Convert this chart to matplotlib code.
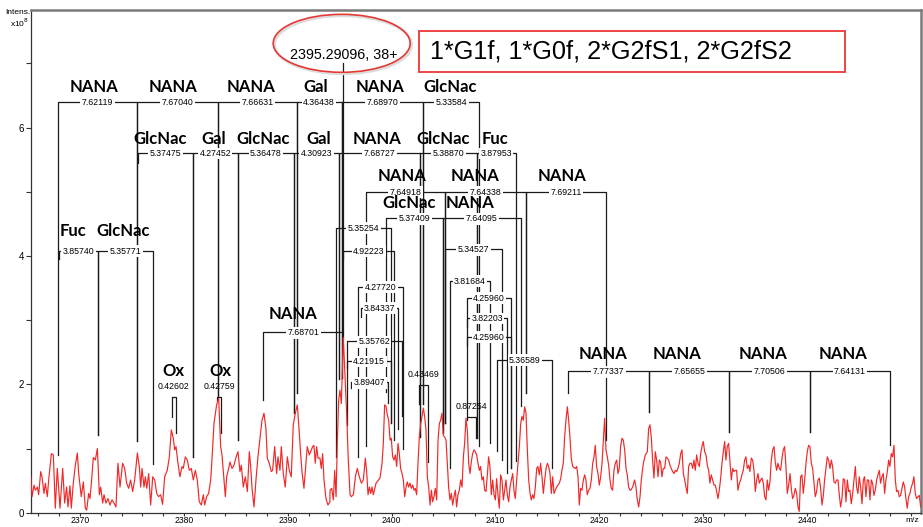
import numpy as np
import matplotlib
matplotlib.use('Agg')
import matplotlib.pyplot as plt
from matplotlib.patches import Ellipse, Rectangle
from matplotlib.ticker import MultipleLocator
from matplotlib import font_manager

# ---- spectrum (m/z, intensity in 1e8) ----
MZ = [
    2365.25, 2365.38, 2365.57, 2365.70, 2365.89, 2366.02, 2366.21, 2366.34, 2366.53, 2366.66, 2366.85, 2366.98,
    2367.24, 2367.43, 2367.62, 2367.81, 2368.07, 2368.33, 2368.52, 2368.71, 2368.84, 2369.03, 2369.16, 2369.35,
    2369.55, 2369.74, 2369.87, 2370.12, 2370.32, 2370.51, 2370.64, 2370.83, 2370.96, 2371.09, 2371.28, 2371.47,
    2371.67, 2371.86, 2371.99, 2372.18, 2372.31, 2372.50, 2372.69, 2372.88, 2373.08, 2373.27, 2373.46, 2373.65,
    2373.85, 2374.10, 2374.30, 2374.49, 2374.68, 2374.87, 2375.07, 2375.26, 2375.52, 2375.71, 2375.84, 2375.97,
    2376.16, 2376.29, 2376.42, 2376.61, 2376.80, 2377.00, 2377.19, 2377.38, 2377.57, 2377.76, 2377.95, 2378.15,
    2378.40, 2378.60, 2378.79, 2378.98, 2379.11, 2379.24, 2379.43, 2379.62, 2379.82, 2379.94, 2380.14, 2380.33,
    2380.52, 2380.71, 2380.91, 2381.10, 2381.29, 2381.48, 2381.68, 2381.87, 2382.00, 2382.19, 2382.38, 2382.58,
    2382.70, 2382.90, 2383.15, 2383.35, 2383.54, 2383.67, 2383.86, 2383.99, 2384.12, 2384.31, 2384.44, 2384.63,
    2384.82, 2385.01, 2385.21, 2385.40, 2385.53, 2385.72, 2385.91, 2386.11, 2386.30, 2386.43, 2386.56, 2386.75,
    2386.94, 2387.13, 2387.33, 2387.52, 2387.71, 2387.90, 2388.03, 2388.22, 2388.42, 2388.54, 2388.74, 2388.93,
    2389.06, 2389.25, 2389.38, 2389.57, 2389.76, 2389.96, 2390.15, 2390.34, 2390.53, 2390.73, 2390.92, 2391.05,
    2391.24, 2391.37, 2391.56, 2391.75, 2391.88, 2392.07, 2392.27, 2392.40, 2392.52, 2392.65, 2392.78, 2392.91,
    2393.10, 2393.23, 2393.36, 2393.49, 2393.68, 2393.87, 2394.06,
    2394.07, 2394.23, 2394.39, 2394.52, 2394.65, 2394.78, 2394.90, 2395.03, 2395.16, 2395.35, 2395.55, 2395.67,
    2395.83, 2396.00, 2396.12, 2396.32, 2396.51, 2396.70, 2396.89, 2397.09, 2397.28, 2397.47, 2397.60, 2397.73,
    2397.86, 2397.99, 2398.11, 2398.24, 2398.50, 2398.88, 2399.08, 2399.20, 2399.33, 2399.46, 2399.59, 2399.72,
    2399.85, 2399.97, 2400.10, 2400.23, 2400.36, 2400.49, 2400.62, 2400.74, 2400.87, 2401.00, 2401.13, 2401.26,
    2401.39, 2401.51, 2401.64, 2401.77, 2401.90, 2402.03, 2402.16, 2402.28, 2402.41, 2402.54, 2402.67, 2402.80,
    2402.93, 2403.06, 2403.18, 2403.31, 2403.44, 2403.57, 2403.70, 2403.83, 2403.95, 2404.08, 2404.21, 2404.34,
    2404.47, 2404.60, 2404.72, 2404.85, 2404.98, 2405.11, 2405.24, 2405.37, 2405.49, 2405.62, 2405.75, 2405.88,
    2406.01, 2406.14, 2406.26, 2406.39, 2406.52, 2406.65, 2406.78, 2406.91, 2407.03, 2407.16, 2407.29, 2407.42,
    2407.55, 2407.68, 2407.80, 2407.93, 2408.06, 2408.19, 2408.32, 2408.45, 2408.57, 2408.70, 2408.83, 2408.96,
    2409.09, 2409.22, 2409.34, 2409.47, 2409.60, 2409.73, 2409.86, 2409.99, 2410.11, 2410.24, 2410.37, 2410.50,
    2410.63, 2410.76, 2410.89, 2411.01, 2411.14, 2411.27, 2411.40, 2411.53, 2411.66, 2411.78, 2411.91, 2412.04,
    2412.17, 2412.30, 2412.43, 2412.55, 2412.68, 2412.81, 2412.94, 2413.07, 2413.20, 2413.33, 2413.45, 2413.58,
    2413.71, 2413.84, 2413.97, 2414.09, 2414.22, 2414.35, 2414.48, 2414.61, 2414.74, 2414.87, 2415.00, 2415.12,
    2415.25, 2415.38, 2415.51, 2415.64, 2415.76, 2415.89, 2416.15, 2416.28, 2416.40, 2416.53, 2416.66, 2416.79,
    2416.92, 2417.05, 2417.18, 2417.30, 2417.43, 2417.69, 2417.82, 2417.95, 2418.07, 2418.20, 2418.33, 2418.46,
    2418.59, 2418.71, 2418.84, 2418.97, 2419.10, 2419.23, 2419.36, 2419.49, 2419.61, 2419.74, 2419.87, 2420.00,
    2420.13, 2420.26, 2420.39, 2420.51, 2420.64, 2420.77, 2420.90, 2421.03, 2421.15, 2421.28, 2421.41, 2421.54,
    2421.67, 2421.80, 2421.92, 2422.05, 2422.18, 2422.31, 2422.44, 2422.57, 2422.69, 2422.82, 2422.95,
    2423.02, 2423.21, 2423.40, 2423.53, 2423.66, 2423.79, 2423.92, 2424.04, 2424.24, 2424.43, 2424.62, 2424.75,
    2424.88, 2425.01, 2425.13, 2425.26, 2425.39, 2425.52, 2425.65, 2425.78, 2425.90, 2426.03, 2426.16, 2426.29,
    2426.42, 2426.55, 2426.67, 2426.80, 2427.06, 2427.19, 2427.32, 2427.45, 2427.57, 2427.70, 2427.83, 2427.96,
    2428.09, 2428.22, 2428.34, 2428.47, 2428.60, 2428.73, 2428.86, 2428.99, 2429.11, 2429.24, 2429.37, 2429.50,
    2429.63, 2429.76, 2429.88, 2430.01, 2430.14, 2430.27, 2430.40, 2430.53, 2430.65, 2430.78, 2430.91, 2431.04,
    2431.17, 2431.30, 2431.42, 2431.55, 2431.68, 2431.81, 2431.94, 2432.07, 2432.19, 2432.32, 2432.45, 2432.58,
    2432.71, 2432.84, 2432.96, 2433.09, 2433.22, 2433.35, 2433.48, 2433.61, 2433.73, 2433.86, 2433.99, 2434.12,
    2434.25, 2434.38, 2434.50, 2434.63, 2434.76, 2434.89, 2435.02, 2435.15, 2435.28, 2435.40, 2435.53, 2435.66,
    2435.79, 2435.92, 2436.05, 2436.17, 2436.30, 2436.43, 2436.56, 2436.69, 2436.82, 2436.94, 2437.07, 2437.20,
    2437.33, 2437.46, 2437.59, 2437.71, 2437.84, 2437.97, 2438.10, 2438.23, 2438.36, 2438.48, 2438.61, 2438.74,
    2438.87, 2439.00, 2439.13, 2439.25, 2439.38, 2439.51, 2439.64, 2439.77, 2439.90, 2440.02, 2440.15, 2440.28,
    2440.41, 2440.54, 2440.67, 2440.79, 2440.92, 2441.05, 2441.18, 2441.31, 2441.44, 2441.57, 2441.69, 2441.82,
    2441.95, 2442.08, 2442.21, 2442.34, 2442.46, 2442.59, 2442.72, 2442.85, 2442.98, 2443.11, 2443.23, 2443.36,
    2443.49, 2443.62, 2443.75, 2443.88, 2444.01, 2444.13, 2444.26, 2444.39, 2444.52, 2444.65, 2444.77, 2444.90,
    2445.03, 2445.16, 2445.29, 2445.42, 2445.54, 2445.67, 2445.80, 2445.93, 2446.06, 2446.19, 2446.31, 2446.44,
    2446.57, 2446.70, 2446.83, 2446.96, 2447.08, 2447.21, 2447.34, 2447.47, 2447.60, 2447.73, 2447.86, 2447.98,
    2448.11, 2448.24, 2448.37, 2448.50, 2448.62, 2448.75, 2448.88, 2449.01, 2449.14, 2449.27, 2449.40, 2449.52,
    2449.65, 2449.78, 2449.91, 2450.04, 2450.17, 2450.29, 2450.42, 2450.55, 2450.68, 2450.81, 2450.94, 2451.07,
]
INTENS = [
    0.56, 0.25, 0.43, 0.35, 0.40, 0.28, 0.64, 0.56, 0.30, 0.46, 0.25, 0.51,
    0.92, 0.90, 0.07, 0.69, 0.07, 0.69, 0.15, 0.40, 0.09, 0.42, 0.07, 0.46,
    0.74, 0.93, 0.61, 0.25, 0.48, 0.07, 0.04, 0.30, 0.22, 0.46, 0.86, 0.82,
    1.00, 0.28, 0.40, 0.15, 0.28, 0.15, 0.22, 0.12, 0.20, 0.15, 0.09, 0.77,
    0.40, 0.77, 0.69, 0.46, 0.38, 0.51, 0.33, 0.51, 0.93, 0.72, 0.40, 0.69,
    0.40, 0.56, 0.38, 0.61, 0.12, 0.56, 0.51, 0.30, 0.25, 0.28, 0.13, 0.56,
    0.66, 0.87, 1.29, 1.16, 0.98, 1.03, 0.77, 0.56, 0.72, 0.69, 0.87, 0.82,
    0.66, 0.69, 0.51, 0.66, 0.51, 0.17, 0.12, 0.28, 0.12, 0.25, 0.30, 0.51,
    0.82, 1.39, 1.68, 1.78, 1.03, 0.90, 0.51, 0.25, 0.56, 0.69, 0.79, 0.69,
    0.74, 0.86, 0.95, 0.64, 0.74, 0.40, 0.56, 0.33, 0.95, 0.72, 0.38, 0.09,
    0.51, 0.87, 1.16, 1.44, 1.55, 1.31, 0.85, 0.77, 0.64, 0.66, 1.03, 0.61,
    0.87, 0.66, 1.03, 0.61, 0.40, 0.87, 0.66, 0.56, 1.37, 1.55, 1.68, 1.39,
    0.92, 0.64, 0.38, 0.77, 1.03, 0.90, 0.98, 1.03, 1.05, 0.77, 1.03, 0.85,
    0.85, 0.69, 0.92, 0.51, 0.22, 0.12, 0.17,
    0.35, 0.38, 0.20, 0.66, 0.25, 1.13, 1.75, 1.91, 1.70, 2.73, 2.00, 1.55,
    0.82, 0.28, 0.25, 0.28, 0.56, 0.69, 0.56, 0.46, 0.51, 0.85, 0.64, 0.28,
    0.40, 0.30, 0.40, 0.28, 0.46, 0.54, 0.77, 1.08, 1.68, 1.66, 1.52, 1.44,
    1.13, 1.16, 0.87, 0.82, 0.90, 0.72, 1.08, 0.92, 0.69, 0.61, 0.51, 0.25,
    0.40, 0.48, 0.40, 0.46, 0.38, 0.43, 0.35, 0.38, 0.28, 0.77, 1.18, 1.39,
    1.50, 1.63, 1.50, 1.29, 0.56, 0.40, 0.12, 0.35, 0.17, 0.25, 0.38, 0.20,
    1.13, 1.39, 1.44, 1.55, 1.20, 1.18, 1.13, 0.74, 0.40, 0.20, 0.30, 0.12,
    0.25, 0.35, 0.09, 0.28, 0.35, 0.51, 0.40, 0.87, 1.08, 1.47, 1.29, 0.77,
    0.61, 0.80, 0.92, 0.98, 0.95, 0.90, 0.77, 0.66, 0.72, 0.51, 0.56, 0.35,
    0.33, 0.59, 0.87, 0.72, 0.28, 0.51, 0.28, 0.20, 0.53, 0.28, 0.07, 0.59,
    0.51, 0.20, 0.35, 0.51, 0.28, 0.17, 0.40, 0.51, 0.61, 0.35, 0.22, 0.51,
    0.77, 1.03, 1.39, 1.50, 1.44, 1.65, 1.55, 0.98, 0.51, 0.30, 0.20, 0.28,
    0.22, 0.40, 0.69, 0.72, 0.59, 0.77, 0.56, 0.30, 0.51, 0.69, 0.77, 0.72,
    0.61, 0.30, 0.56, 0.30, 0.35, 0.40, 0.46, 0.53, 0.66, 0.77, 1.18, 1.44,
    1.65, 1.44, 1.16, 0.85, 0.72, 0.69, 0.72, 0.56, 0.12, 0.38, 0.35, 0.51,
    0.59, 0.51, 0.28, 0.35, 0.38, 0.51, 0.77, 0.87, 1.05, 0.72, 0.61, 0.43,
    0.56, 0.77, 1.13, 1.47, 0.98, 0.87, 0.74, 0.51, 0.38, 0.35, 0.66, 0.77,
    0.82, 0.61, 0.69, 1.03, 1.16, 1.13, 0.98, 0.69, 0.59, 0.40, 0.35,
    0.35, 0.40, 0.51, 0.40, 0.20, 0.09, 0.25, 0.51, 0.77, 0.90, 0.95, 1.31,
    1.37, 1.16, 0.82, 0.54, 0.95, 0.82, 0.56, 0.82, 0.79, 0.56, 0.69, 0.69,
    0.87, 0.85, 0.82, 0.74, 0.64, 0.61, 0.66, 0.64, 0.69, 0.77, 0.92, 0.98,
    0.61, 0.51, 0.40, 0.30, 0.72, 0.77, 0.77, 0.69, 0.82, 0.66, 0.90, 0.77,
    0.72, 0.92, 1.03, 1.11, 0.95, 0.90, 0.74, 0.66, 0.46, 0.59, 0.51, 0.43,
    0.43, 0.33, 0.22, 0.35, 0.53, 0.77, 0.95, 1.11, 0.82, 1.03, 1.08, 0.79,
    0.51, 0.69, 0.64, 0.66, 0.66, 0.35, 0.46, 0.51, 0.59, 0.66, 0.82, 0.87,
    0.69, 0.74, 0.64, 0.85, 0.82, 0.66, 0.33, 0.51, 0.61, 0.46, 0.51, 0.54,
    0.46, 0.25, 0.20, 0.51, 0.35, 0.48, 0.82, 0.98, 1.03, 0.79, 0.66, 0.77,
    0.69, 0.66, 0.85, 0.98, 1.03, 0.72, 0.30, 0.43, 0.61, 0.38, 0.22, 0.27,
    0.38, 0.30, 0.09, 0.02, 0.56, 0.59, 0.30, 0.51, 0.77, 0.95, 1.05, 1.03,
    0.77, 0.69, 0.46, 0.25, 0.33, 0.51, 0.54, 0.38, 0.12, 0.27, 0.51, 0.69,
    0.87, 0.82, 0.69, 0.82, 0.72, 0.48, 0.46, 0.51, 0.51, 0.27, 0.09, 0.22,
    0.53, 0.51, 0.17, 0.51, 0.33, 0.35, 0.14, 0.30, 0.51, 0.72, 0.40, 0.30,
    0.56, 0.40, 0.14, 0.51, 0.56, 0.25, 0.51, 0.51, 0.20, 0.51, 0.46, 0.27,
    0.35, 0.51, 0.59, 0.66, 0.46, 0.56, 0.61, 0.30, 0.51, 0.64, 0.82, 0.72,
    0.92, 0.87, 1.05, 0.51, 0.33, 0.35, 0.25, 0.27, 0.38, 0.48, 0.40, 0.22,
    0.07, 0.25, 0.30, 0.40, 0.46, 0.56, 0.30, 0.22, 0.25, 0.27, 0.09, 0.20,
]

# mass-difference brackets: left m/z, right m/z, bar level, left end, right end, value
BRACKETS = [
    (2367.85, 2375.52, 6.40, 0.90, 1.12, '7.62119'),
    (2375.52, 2383.26, 6.40, 1.12, 1.80, '7.67040'),
    (2383.26, 2390.86, 6.40, 1.80, 1.87, '7.66631'),
    (2390.86, 2395.19, 6.40, 1.87, 2.10, '4.36438'),
    (2395.19, 2403.05, 6.40, 2.10, 1.70, '7.68970'),
    (2403.05, 2408.45, 6.40, 1.70, 1.04, '5.33584'),
    (2375.61, 2380.84, 5.60, 5.45, 0.87, '5.37475'),
    (2380.84, 2385.18, 5.60, 0.87, 1.14, '4.27452'),
    (2385.18, 2390.60, 5.60, 1.14, 1.55, '5.36478'),
    (2390.60, 2394.93, 5.60, 1.55, 2.09, '4.30923'),
    (2394.93, 2402.74, 5.60, 2.09, 1.18, '7.68727'),
    (2402.74, 2408.19, 5.60, 1.18, 1.16, '5.38870'),
    (2408.19, 2411.95, 5.60, 1.16, 0.81, '3.87953'),
    (2397.51, 2405.14, 5.00, 1.04, 1.39, '7.64918'),
    (2405.14, 2412.94, 5.00, 1.39, 1.86, '7.64338'),
    (2412.94, 2420.65, 5.00, 1.86, 1.13, '7.69211'),
    (2399.46, 2404.91, 4.585, 1.88, 1.24, '5.37409'),
    (2404.91, 2412.43, 4.585, 1.24, 1.67, '7.64095'),
    (2368.00, 2371.70, 4.08, 3.95, 1.21, '3.85740'),
    (2371.70, 2377.06, 4.08, 1.21, 0.76, '5.35771'),
    (2394.62, 2399.94, 4.435, 0.87, 1.39, '5.35254'),
    (2395.35, 2400.26, 4.08, 3.95, 1.14, '4.92223'),
    (2396.80, 2401.06, 3.52, 0.87, 0.99, '4.27720'),
    (2397.06, 2400.65, 3.19, 3.05, 1.30, '3.84337'),
    (2387.65, 2395.35, 2.81, 1.76, 2.70, '7.68701'),
    (2395.67, 2400.97, 2.67, 1.37, 1.50, '5.35762'),
    (2395.74, 2399.94, 2.36, 2.25, 1.39, '4.21915'),
    (2396.06, 2399.68, 2.03, 1.95, 1.71, '3.89407'),
    (2405.14, 2410.60, 4.10, 1.39, 0.82, '5.34527'),
    (2405.62, 2409.47, 3.61, 0.70, 1.09, '3.81684'),
    (2407.23, 2411.50, 3.35, 1.49, 0.69, '4.25960'),
    (2407.29, 2411.08, 3.03, 2.90, 0.62, '3.82203'),
    (2407.29, 2411.50, 2.74, 2.60, 0.69, '4.25960'),
    (2410.18, 2415.48, 2.38, 0.96, 0.69, '5.36589'),
    (2416.96, 2424.81, 2.20, 1.86, 1.57, '7.77337'),
    (2424.81, 2432.52, 2.20, 1.57, 1.26, '7.65655'),
    (2432.52, 2440.29, 2.20, 1.26, 1.26, '7.70506'),
    (2440.29, 2447.99, 2.20, 1.26, 1.05, '7.64131'),
]
# narrow brackets with the value written above the bar
SMALL_BRACKETS = [
    (2378.83, 2379.24, 1.81, 1.49, 1.24, '0.42602'),
    (2383.22, 2383.58, 1.81, 1.75, 1.24, '0.42759'),
    (2402.67, 2403.47, 1.99, 1.70, 0.79, '0.43469'),
    (2407.23, 2408.10, 1.49, 1.45, 1.16, '0.87254'),
]
# residue names: m/z, baseline level, text
LABELS = [
    (2371.38, 6.56, 'NANA'), (2378.98, 6.56, 'NANA'), (2386.46, 6.56, 'NANA'),
    (2392.72, 6.56, 'Gal'), (2398.89, 6.56, 'NANA'), (2405.63, 6.56, 'GlcNac'),
    (2377.70, 5.75, 'GlcNac'), (2382.83, 5.75, 'Gal'), (2387.65, 5.75, 'GlcNac'),
    (2392.94, 5.75, 'Gal'), (2398.57, 5.75, 'NANA'), (2404.98, 5.75, 'GlcNac'),
    (2409.96, 5.75, 'Fuc'),
    (2400.97, 5.17, 'NANA'), (2408.03, 5.17, 'NANA'), (2416.38, 5.17, 'NANA'),
    (2401.68, 4.74, 'GlcNac'), (2407.55, 4.74, 'NANA'),
    (2369.35, 4.31, 'Fuc'), (2374.17, 4.31, 'GlcNac'),
    (2390.54, 3.02, 'NANA'),
    (2378.98, 2.13, 'Ox'), (2383.48, 2.13, 'Ox'),
    (2420.32, 2.40, 'NANA'), (2427.45, 2.40, 'NANA'), (2435.79, 2.40, 'NANA'), (2443.44, 2.40, 'NANA'),
]
MARKED_MZ = 2395.29
MARKED_TEXT = '2395.29096, 38+'
MARKED_LINE = (7.00, 2.81)
GLYCOFORMS = '1*G1f, 1*G0f, 2*G2fS1, 2*G2fS2'

installed = {f.name for f in font_manager.fontManager.ttflist}
NARROW = 'Liberation Sans Narrow' if 'Liberation Sans Narrow' in installed else 'Liberation Sans'
BOLD = 'Lato' if 'Lato' in installed else 'DejaVu Sans'

fig = plt.figure(figsize=(9.23, 5.27), dpi=100)
ax = fig.add_axes([0.0336, 0.0271, 0.9642, 0.9539])
ax.set_xlim(2365.28, 2450.97)
ax.set_ylim(0, 7.83)

ax.plot(MZ, INTENS, color='#f02828', lw=0.85, zorder=3)

for left, right, bar, lend, rend, val in BRACKETS:
    ax.plot([left, left, right, right], [lend, bar, bar, rend], color='#1a1a1a', lw=0.9, zorder=2)
    ax.text((left + right) / 2, bar - 0.045, val, ha='center', va='baseline', fontsize=6.3,
            family=NARROW, zorder=2.5, bbox=dict(fc='white', ec='none', pad=1.0))

for left, right, bar, lend, rend, val in SMALL_BRACKETS:
    ax.plot([left, left, right, right], [lend, bar, bar, rend], color='#1a1a1a', lw=0.9, zorder=2)
    ax.text((left + right) / 2, bar + 0.12, val, ha='center', va='baseline', fontsize=6.3,
            family=NARROW, zorder=2.5)

for x, y, name in LABELS:
    ax.text(x, y, name, ha='center', va='baseline', fontsize=12, fontweight='bold',
            family=BOLD, zorder=5)

ax.plot([MARKED_MZ, MARKED_MZ], list(MARKED_LINE), color='#1a1a1a', lw=0.9, zorder=2)

# axes styling
for side in ['top', 'right']:
    ax.spines[side].set_color('#7a7a7a')
    ax.spines[side].set_linewidth(1.8)
for side in ['left', 'bottom']:
    ax.spines[side].set_color('#333333')
    ax.spines[side].set_linewidth(0.9)
ax.set_xticks(np.arange(2370, 2441, 10))
ax.xaxis.set_minor_locator(MultipleLocator(2))
ax.set_yticks([0, 2, 4, 6])
ax.yaxis.set_minor_locator(MultipleLocator(1))
ax.tick_params(axis='y', which='both', direction='out', length=3.5, width=0.8, color='#333333',
               labelsize=7, pad=1.5)
ax.tick_params(axis='x', which='both', direction='out', length=2.2, width=0.8, color='#333333',
               labelsize=6.2, pad=0.4)
for lbl in ax.get_xticklabels() + ax.get_yticklabels():
    lbl.set_family(NARROW)

fig.text(0.988, 0.0114, 'm/z', ha='center', va='center', fontsize=6, family=NARROW)
fig.text(0.0195, 0.977, 'Intens.', ha='center', va='center', fontsize=6, family=NARROW)
fig.text(0.0206, 0.957, r'x10$^8$', ha='center', va='center', fontsize=6, family=NARROW)

# highlighted precursor
shadow = Ellipse((0.3717, 0.9150), 0.1484, 0.110, transform=fig.transFigure,
                 fill=False, ec='#dcdcdc', lw=2.0)
ring = Ellipse((0.3702, 0.9178), 0.1484, 0.110, transform=fig.transFigure,
               fill=False, ec='#e53935', lw=1.2)
fig.add_artist(shadow)
fig.add_artist(ring)
fig.text(0.3720, 0.8947, MARKED_TEXT, ha='center', va='center', fontsize=10.3, family=NARROW)

box = Rectangle((0.454, 0.864), 0.4616, 0.0772, transform=fig.transFigure,
                fc='white', ec='#ee4444', lw=1.4)
fig.add_artist(box)
fig.text(0.466, 0.903, GLYCOFORMS, ha='left', va='center', fontsize=18.2, family='Liberation Sans')

fig.savefig('out.png', dpi=100)
